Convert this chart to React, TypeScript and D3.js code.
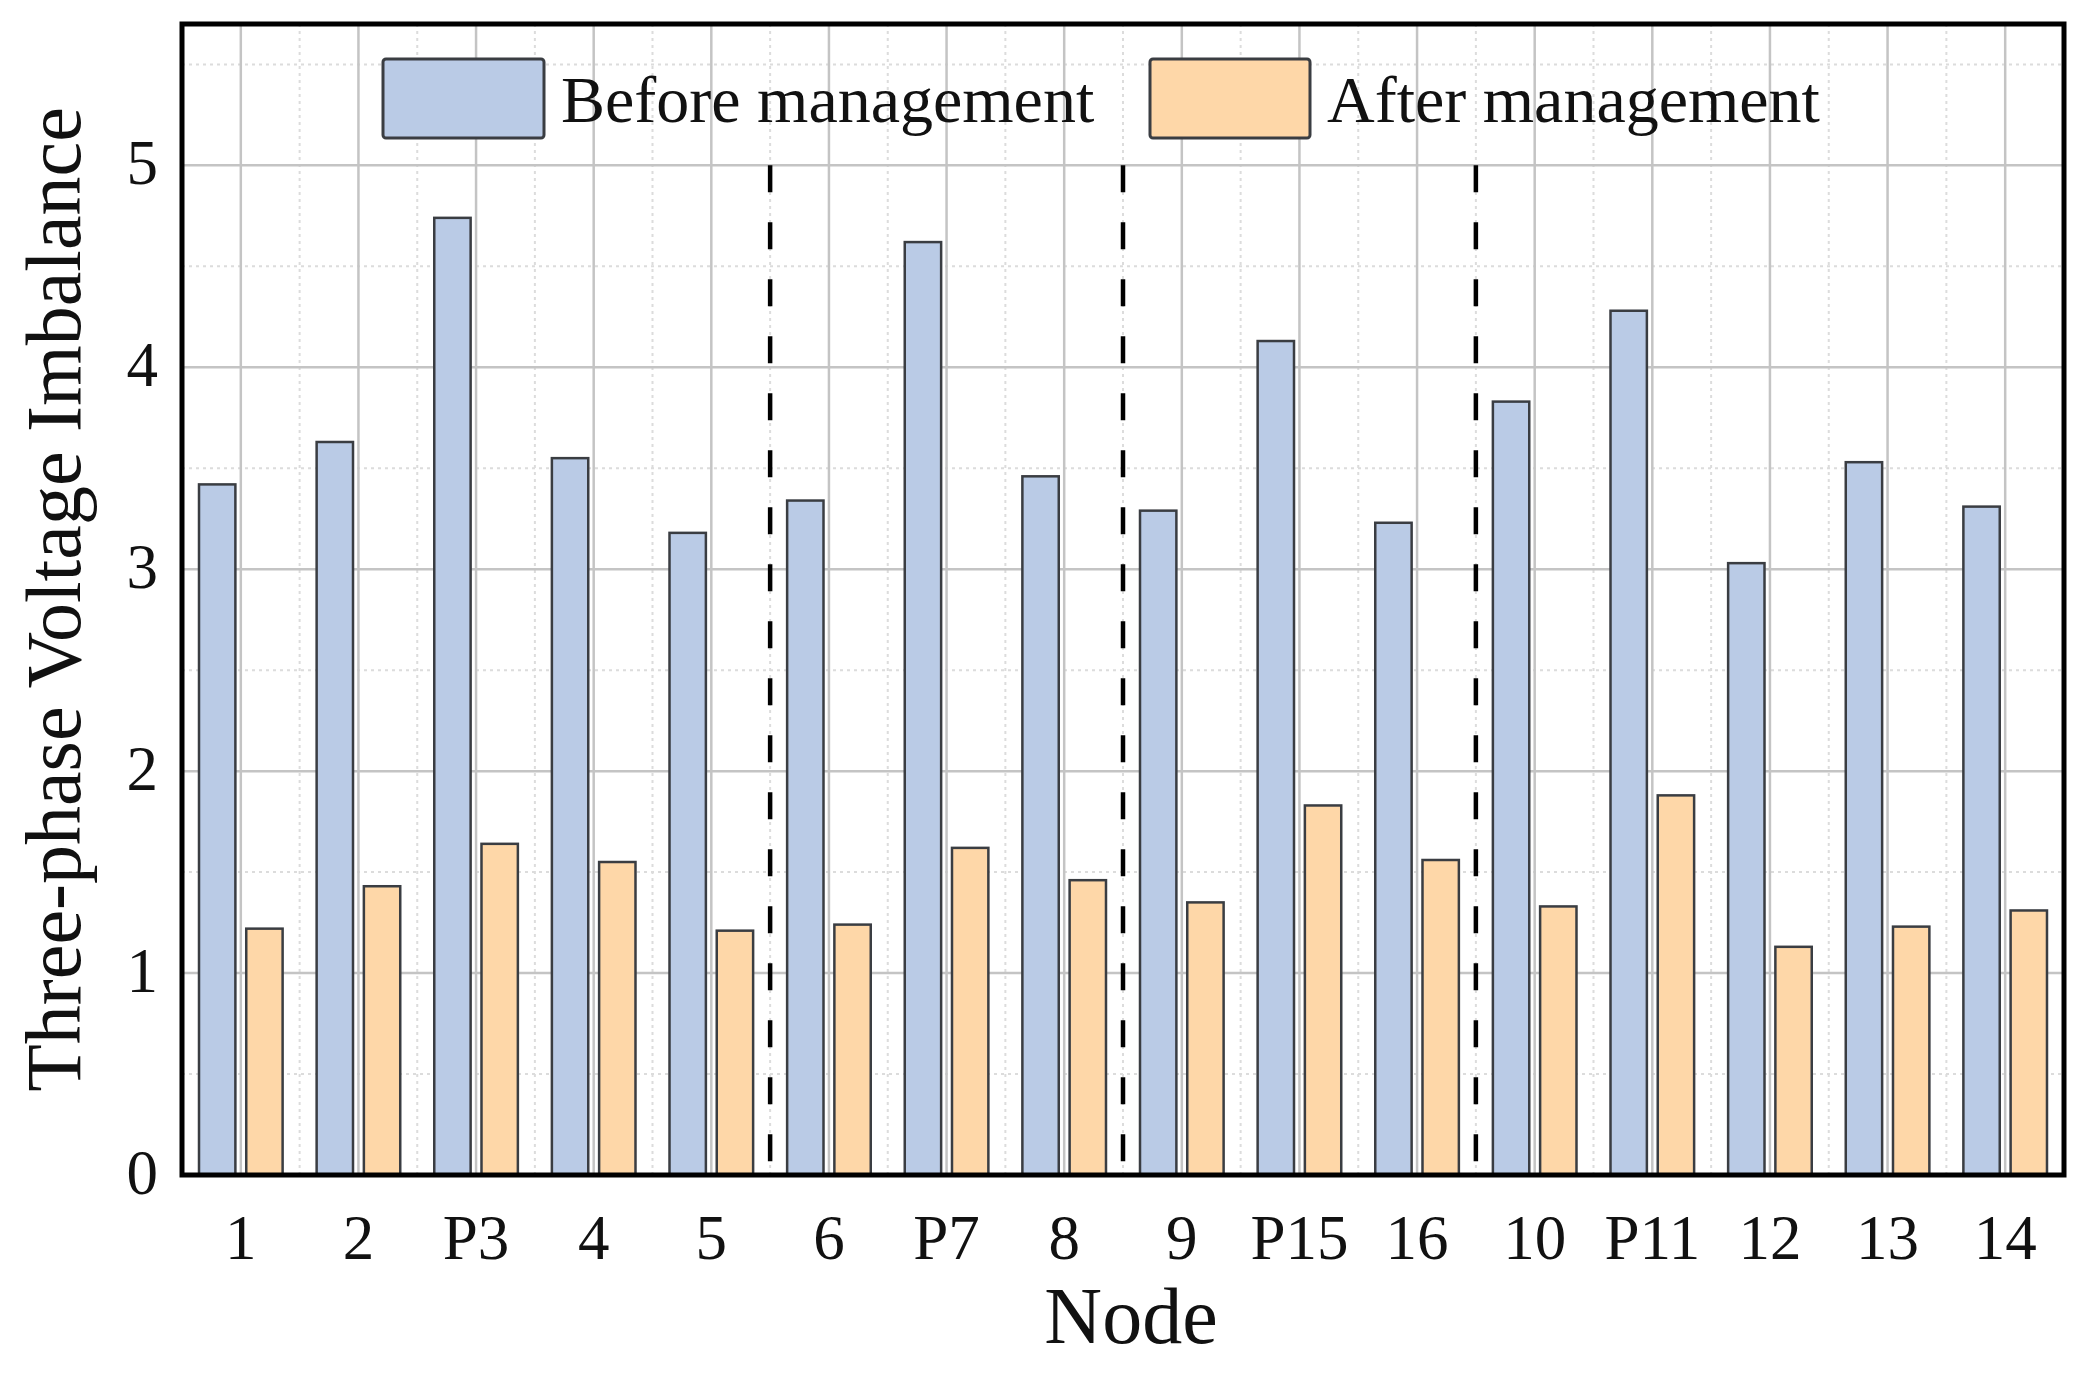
import * as d3 from "d3";

const nodes = ["1", "2", "P3", "4", "5", "6", "P7", "8", "9", "P15", "16", "10", "P11", "12", "13", "14"];
const before = [3.42, 3.63, 4.74, 3.55, 3.18, 3.34, 4.62, 3.46, 3.29, 4.13, 3.23, 3.83, 4.28, 3.03, 3.53, 3.31];
const after = [1.22, 1.43, 1.64, 1.55, 1.21, 1.24, 1.62, 1.46, 1.35, 1.83, 1.56, 1.33, 1.88, 1.13, 1.23, 1.31];
const seriesNames = ["Before management", "After management"];
const yTicks = [0, 1, 2, 3, 4, 5];
// dashed separators sit right after these nodes
const dividerAfter = ["5", "8", "16"];

const W = 2089;
const H = 1376;
const margin = { left: 182, top: 24, right: W - 2064, bottom: H - 1175 };
const colors = ["#bacbe6", "#fed7a8"];
const FONT = "'Liberation Serif', 'Times New Roman', serif";

const App = () => {
  const x0 = d3
    .scaleBand<string>()
    .domain(nodes)
    .range([margin.left, W - margin.right])
    .padding(0);
  const x1 = d3
    .scaleBand<string>()
    .domain(seriesNames)
    .range([0, x0.bandwidth()])
    .paddingInner(0.23)
    .paddingOuter(0.36);
  const y = d3.scaleLinear().domain([0, 5.7]).range([H - margin.bottom, margin.top]);

  const minorY = d3.range(0.5, 5.7, 1);
  const bounds = nodes.slice(1).map((n) => x0(n)!);
  const centers = nodes.map((n) => x0(n)! + x0.bandwidth() / 2);
  const series = [before, after];

  const left = margin.left;
  const right = W - margin.right;
  const top = margin.top;
  const bottom = H - margin.bottom;

  return (
    <svg
      width={W}
      height={H}
      style={{ position: "absolute", left: 0, top: 0, background: "#fff" }}
      fontFamily={FONT}
    >
      <rect x={0} y={0} width={W} height={H} fill="#fff" />
      {/* minor grid */}
      <g stroke="#dcdcdc" strokeWidth={2} strokeDasharray="3,4">
        {minorY.map((v) => (
          <line key={"my" + v} x1={left} x2={right} y1={y(v)} y2={y(v)} />
        ))}
        {bounds.map((bx, i) => (
          <line key={"mx" + i} x1={bx} x2={bx} y1={top} y2={bottom} />
        ))}
      </g>
      {/* major grid */}
      <g stroke="#c4c4c4" strokeWidth={2.5}>
        {yTicks.slice(1).map((v) => (
          <line key={"gy" + v} x1={left} x2={right} y1={y(v)} y2={y(v)} />
        ))}
        {centers.map((cx, i) => (
          <line key={"gx" + i} x1={cx} x2={cx} y1={top} y2={bottom} />
        ))}
      </g>
      {/* bars */}
      {series.map((vals, si) => (
        <g key={seriesNames[si]} fill={colors[si]} stroke="#3a3d42" strokeWidth={2.5}>
          {vals.map((v, i) => (
            <rect
              key={nodes[i]}
              x={x0(nodes[i])! + x1(seriesNames[si])!}
              y={y(v)}
              width={x1.bandwidth()}
              height={y(0) - y(v)}
            />
          ))}
        </g>
      ))}
      {/* dashed separators */}
      <g stroke="#000" strokeWidth={4.5} strokeDasharray="27,30">
        {dividerAfter.map((n) => {
          const bx = x0(n)! + x0.bandwidth();
          return <line key={"d" + n} x1={bx} x2={bx} y1={y(5)} y2={y(0)} />;
        })}
      </g>
      {/* legend */}
      <g>
        <rect x={383} y={59} width={161} height={79} rx={3} fill={colors[0]} stroke="#3a3d42" strokeWidth={3} />
        <text x={561} y={122} fontSize={66} fill="#111">
          {seriesNames[0]}
        </text>
        <rect x={1150} y={59} width={160} height={79} rx={3} fill={colors[1]} stroke="#3a3d42" strokeWidth={3} />
        <text x={1327} y={122} fontSize={66} fill="#111">
          {seriesNames[1]}
        </text>
      </g>
      {/* frame */}
      <rect x={left} y={top} width={right - left} height={bottom - top} fill="none" stroke="#000" strokeWidth={5} />
      {/* y ticks */}
      <g fontSize={63} textAnchor="end" fill="#111">
        {yTicks.map((v) => (
          <text key={"yt" + v} x={left - 24} y={y(v)} dy="0.3em">
            {v}
          </text>
        ))}
      </g>
      {/* x ticks */}
      <g fontSize={63} textAnchor="middle" fill="#111">
        {nodes.map((n, i) => (
          <text key={"xt" + n} x={centers[i]} y={1259}>
            {n}
          </text>
        ))}
      </g>
      <text x={(left + right) / 2 + 8} y={1343} fontSize={80} textAnchor="middle" fill="#111">
        Node
      </text>
      <text
        transform={`translate(80,${(top + bottom) / 2}) rotate(-90)`}
        fontSize={78}
        textAnchor="middle"
        fill="#111"
      >
        Three-phase Voltage Imbalance
      </text>
    </svg>
  );
};

export default App;
